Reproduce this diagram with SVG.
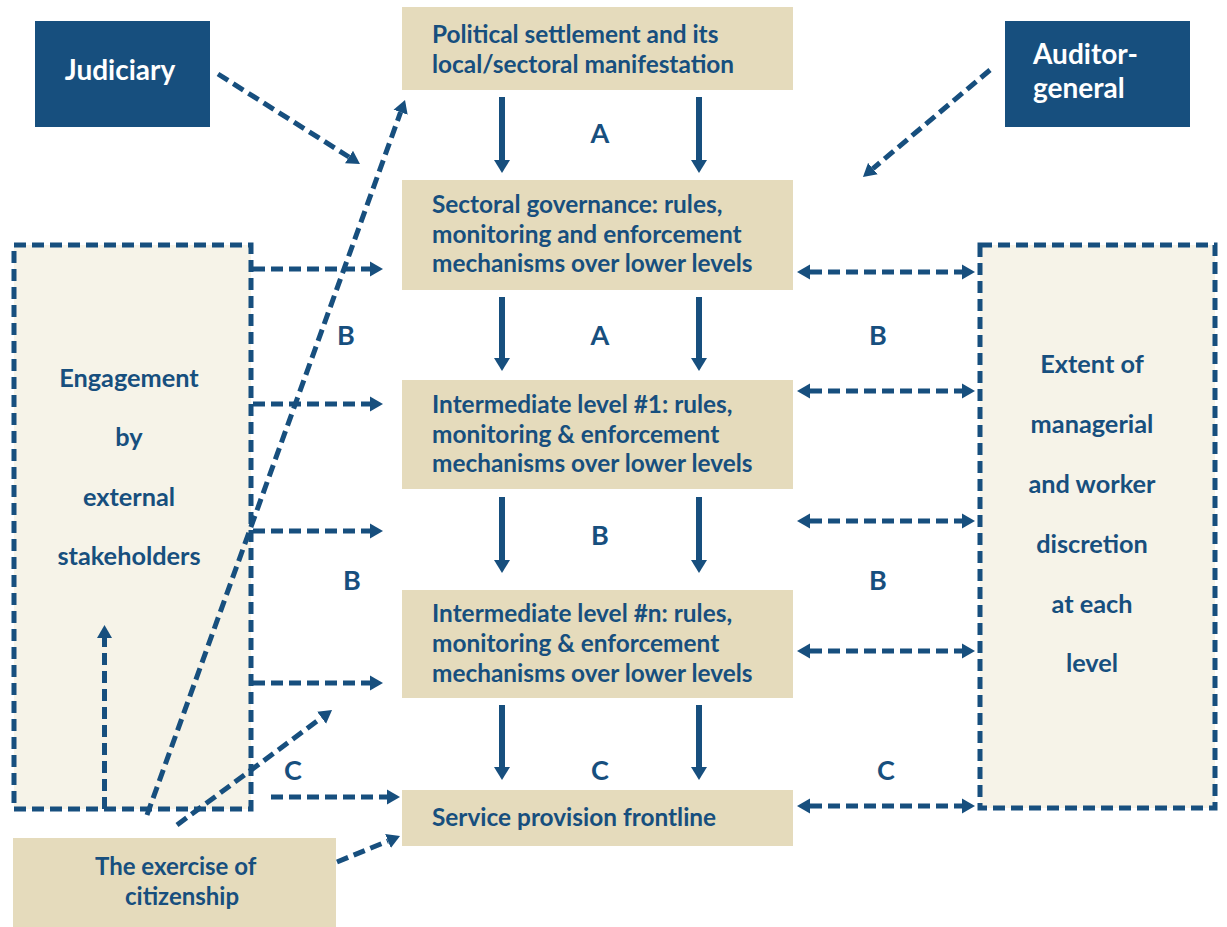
<svg xmlns="http://www.w3.org/2000/svg" width="1227" height="927" viewBox="0 0 1227 927">
<style>
  .tan{fill:#e5dbbc}
  .navy{fill:#174f7e}
  .cream{fill:#f6f3e8}
  .t{font-family:Lato,"Open Sans","Liberation Sans",sans-serif;font-weight:700;font-size:24.4px;fill:#174f7e}
  .s{font-size:25.3px}
  .c{font-size:24px}
  .w{font-family:Lato,"Open Sans","Liberation Sans",sans-serif;font-weight:700;font-size:28px;fill:#ffffff}
  .lab{font-family:Lato,"Open Sans","Liberation Sans",sans-serif;font-weight:700;font-size:27px;fill:#174f7e;text-anchor:middle}
  .mid{text-anchor:middle}
  .dash{fill:none;stroke:#174f7e;stroke-width:5;stroke-dasharray:12 6}
  .solid{fill:none;stroke:#174f7e;stroke-width:6}
</style>
<defs>
  <marker id="ah" markerUnits="userSpaceOnUse" markerWidth="14" markerHeight="16" refX="0" refY="7.5" orient="auto-start-reverse" viewBox="0 0 14 15">
    <path d="M0,0 L13,7.5 L0,15 z" fill="#174f7e"/>
  </marker>
  <marker id="sh" markerUnits="userSpaceOnUse" markerWidth="14" markerHeight="17" refX="0" refY="8" orient="auto" viewBox="0 0 14 16">
    <path d="M0,0 L13,8 L0,16 z" fill="#174f7e"/>
  </marker>
</defs>
<rect width="1227" height="927" fill="#ffffff"/>

<g id="judiciary">
  <rect class="navy" x="35" y="21" width="175" height="106"/>
  <text class="w mid" x="120" y="80">Judiciary</text>
</g>
<g id="auditor-general">
  <rect class="navy" x="1005" y="21" width="185" height="106"/>
  <text class="w" x="1033" y="64">Auditor-</text>
  <text class="w" x="1033" y="98">general</text>
</g>
<g id="political-settlement">
  <rect class="tan" x="402" y="7" width="391" height="83"/>
  <text class="t" x="432" y="43">Political settlement and its</text>
  <text class="t" x="432" y="73">local/sectoral manifestation</text>
</g>
<g id="sectoral-governance">
  <rect class="tan" x="402" y="180" width="391" height="110"/>
  <text class="t" x="432" y="213">Sectoral governance: rules,</text>
  <text class="t" x="432" y="243">monitoring and enforcement</text>
  <text class="t" x="432" y="272">mechanisms over lower levels</text>
</g>
<g id="intermediate-1">
  <rect class="tan" x="402" y="380" width="391" height="109"/>
  <text class="t" x="432" y="413">Intermediate level #1: rules,</text>
  <text class="t" x="432" y="443">monitoring &amp; enforcement</text>
  <text class="t" x="432" y="472">mechanisms over lower levels</text>
</g>
<g id="intermediate-n">
  <rect class="tan" x="402" y="590" width="391" height="108"/>
  <text class="t" x="432" y="622">Intermediate level #n: rules,</text>
  <text class="t" x="432" y="652">monitoring &amp; enforcement</text>
  <text class="t" x="432" y="682">mechanisms over lower levels</text>
</g>
<g id="service-frontline">
  <rect class="tan" x="402" y="790" width="391" height="56"/>
  <text class="t" x="432" y="826">Service provision frontline</text>
</g>
<g id="external-stakeholders">
  <rect class="cream" x="14" y="245" width="237" height="564"/>
  <rect class="dash" x="14" y="245" width="237" height="564"/>
  <text class="t s mid" x="129" y="387">Engagement</text>
  <text class="t s mid" x="129" y="446">by</text>
  <text class="t s mid" x="129" y="506">external</text>
  <text class="t s mid" x="129" y="565">stakeholders</text>
</g>
<g id="discretion">
  <rect class="cream" x="980" y="245" width="235" height="563"/>
  <rect class="dash" x="980" y="245" width="235" height="563"/>
  <text class="t s mid" x="1092" y="373">Extent of</text>
  <text class="t s mid" x="1092" y="433">managerial</text>
  <text class="t s mid" x="1092" y="493">and worker</text>
  <text class="t s mid" x="1092" y="553">discretion</text>
  <text class="t s mid" x="1092" y="613">at each</text>
  <text class="t s mid" x="1092" y="672">level</text>
</g>
<g id="citizenship">
  <rect class="tan" x="13" y="838" width="323" height="89"/>
  <text class="t c" x="95" y="875">The exercise of</text>
  <text class="t c" x="125" y="905">citizenship</text>
</g>

<g id="connectors">
  <line class="solid" marker-end="url(#sh)" x1="502" y1="97" x2="502" y2="160"/>
  <line class="solid" marker-end="url(#sh)" x1="699" y1="97" x2="699" y2="160"/>
  <line class="solid" marker-end="url(#sh)" x1="502" y1="297" x2="502" y2="358"/>
  <line class="solid" marker-end="url(#sh)" x1="699" y1="297" x2="699" y2="358"/>
  <line class="solid" marker-end="url(#sh)" x1="502" y1="497" x2="502" y2="560"/>
  <line class="solid" marker-end="url(#sh)" x1="699" y1="497" x2="699" y2="560"/>
  <line class="solid" marker-end="url(#sh)" x1="502" y1="705" x2="502" y2="767"/>
  <line class="solid" marker-end="url(#sh)" x1="699" y1="705" x2="699" y2="767"/>

  <line class="dash" marker-end="url(#ah)" x1="253" y1="269" x2="370" y2="269"/>
  <line class="dash" marker-end="url(#ah)" x1="253" y1="404" x2="370" y2="404"/>
  <line class="dash" marker-end="url(#ah)" x1="253" y1="531" x2="370" y2="531"/>
  <line class="dash" marker-end="url(#ah)" x1="253" y1="683" x2="370" y2="683"/>
  <line class="dash" marker-end="url(#ah)" x1="271" y1="797" x2="387" y2="797"/>

  <line class="dash" marker-start="url(#ah)" marker-end="url(#ah)" x1="810" y1="272" x2="962" y2="272"/>
  <line class="dash" marker-start="url(#ah)" marker-end="url(#ah)" x1="810" y1="391" x2="962" y2="391"/>
  <line class="dash" marker-start="url(#ah)" marker-end="url(#ah)" x1="810" y1="521" x2="962" y2="521"/>
  <line class="dash" marker-start="url(#ah)" marker-end="url(#ah)" x1="810" y1="651" x2="962" y2="651"/>
  <line class="dash" marker-start="url(#ah)" marker-end="url(#ah)" x1="810" y1="806" x2="962" y2="806"/>

  <line class="dash" marker-end="url(#ah)" x1="218" y1="74" x2="349" y2="157"/>
  <line class="dash" marker-end="url(#ah)" x1="990" y1="70" x2="872.9" y2="168.6"/>

  <line class="dash" marker-end="url(#ah)" x1="104.5" y1="809" x2="104.5" y2="638"/>
  <line class="dash" marker-end="url(#ah)" x1="147" y1="815" x2="400.6" y2="112.2"/>
  <line class="dash" marker-end="url(#ah)" x1="177" y1="825" x2="321.6" y2="717.7"/>
  <line class="dash" marker-end="url(#ah)" x1="337" y1="862" x2="388" y2="841"/>
</g>

<g id="labels">
  <text class="lab" x="600" y="143">A</text>
  <text class="lab" x="600" y="345">A</text>
  <text class="lab" x="346" y="345">B</text>
  <text class="lab" x="878" y="345">B</text>
  <text class="lab" x="600" y="545">B</text>
  <text class="lab" x="352" y="590">B</text>
  <text class="lab" x="878" y="590">B</text>
  <text class="lab" x="293" y="780">C</text>
  <text class="lab" x="600" y="780">C</text>
  <text class="lab" x="886" y="780">C</text>
</g>
</svg>
